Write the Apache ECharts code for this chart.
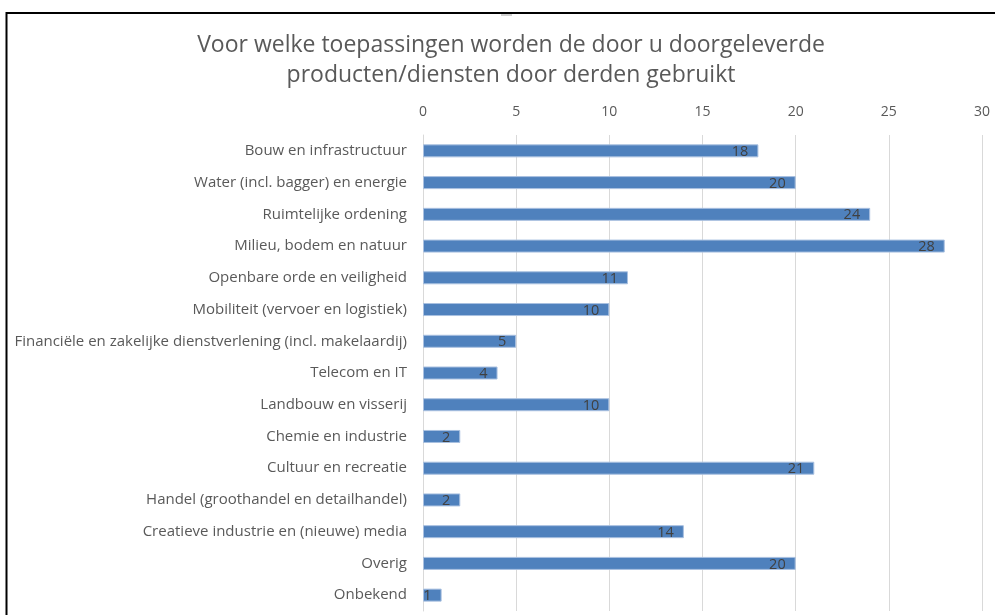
<!DOCTYPE html>
<html>
<head>
<meta charset="utf-8">
<script src="https://cdn.jsdelivr.net/npm/echarts@6/dist/echarts.min.js"></script>
<style>
html,body{margin:0;padding:0;background:#fff;}
#main{width:995px;height:615px;}
</style>
</head>
<body>
<div id="main"></div>
<script>
const titleLines = ['Voor welke toepassingen worden de door u doorgeleverde', 'producten/diensten door derden gebruikt'];
const categories = [
  'Bouw en infrastructuur',
  'Water (incl. bagger) en energie',
  'Ruimtelijke ordening',
  'Milieu, bodem en natuur',
  'Openbare orde en veiligheid',
  'Mobiliteit (vervoer en logistiek)',
  'Financiële en zakelijke dienstverlening (incl. makelaardij)',
  'Telecom en IT',
  'Landbouw en visserij',
  'Chemie en industrie',
  'Cultuur en recreatie',
  'Handel (groothandel en detailhandel)',
  'Creatieve industrie en (nieuwe) media',
  'Overig',
  'Onbekend'
];
const values = [18, 20, 24, 28, 11, 10, 5, 4, 10, 2, 21, 2, 14, 20, 1];
const axisMin = 0, axisMax = 30, axisStep = 5;

const chart = echarts.init(document.getElementById('main'), null, {renderer: 'canvas'});
const FONT = 'Open Sans';
chart.setOption({
  backgroundColor: '#ffffff',
  animation: false,
  title: {
    text: titleLines.join('\n'),
    left: 506,
    textAlign: 'center',
    top: 25,
    textStyle: {fontFamily: FONT, fontSize: 23, fontWeight: 'normal', color: '#595959', lineHeight: 30}
  },
  grid: {left: 423, right: 13, top: 135, bottom: 4, containLabel: false},
  xAxis: {
    type: 'value', position: 'top', min: axisMin, max: axisMax, interval: axisStep,
    axisLine: {show: false}, axisTick: {show: false},
    axisLabel: {fontFamily: FONT, fontSize: 14, color: '#595959', margin: 16},
    splitLine: {show: true, lineStyle: {color: '#d9d9d9', width: 1}}
  },
  yAxis: {
    type: 'category', data: categories, inverse: true,
    axisLine: {show: true, lineStyle: {color: '#d9d9d9', width: 1}},
    axisTick: {show: false},
    axisLabel: {fontFamily: FONT, fontSize: 15, color: '#595959', margin: 16}
  },
  series: [{
    type: 'bar', data: values, barWidth: 13,
    itemStyle: {color: '#4f81bd', borderColor: '#a9c0e0', borderWidth: 1},
    label: {show: true, position: 'insideRight', distance: 10, fontFamily: FONT, fontSize: 14.5, color: '#404040', offset: [0, 1]}
  }],
  graphic: [
    {type: 'line', shape: {x1: 6, y1: 13, x2: 995, y2: 13}, style: {stroke: '#000', lineWidth: 2}},
    {type: 'line', shape: {x1: 6.5, y1: 12, x2: 6.5, y2: 615}, style: {stroke: '#000', lineWidth: 2}},
    {type: 'rect', shape: {x: 501, y: 14, width: 11, height: 2}, style: {fill: '#d0d0d0'}}
  ]
});
</script>
</body>
</html>
